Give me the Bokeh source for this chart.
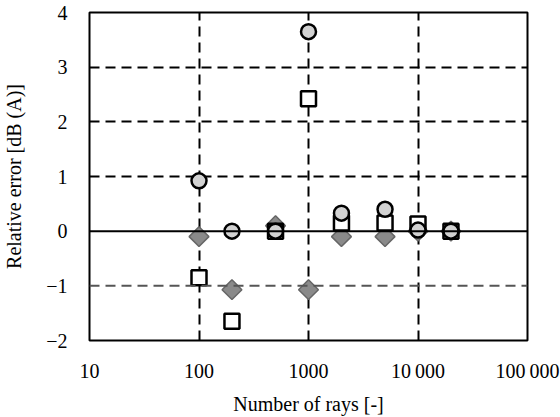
import math
from bokeh.plotting import figure
from bokeh.models import FixedTicker, Span, Range1d
from bokeh.embed import file_html
from bokeh.resources import INLINE

# Data
rays = [100, 200, 500, 1000, 2000, 5000, 10000, 20000]
circle_err = [0.92, 0.0, 0.0, 3.65, 0.33, 0.40, 0.02, 0.0]
square_err = [-0.85, -1.65, 0.0, 2.42, 0.15, 0.15, 0.13, 0.0]
diamond_err = [-0.1, -1.07, 0.1, -1.07, -0.1, -0.1, 0.0, 0.0]

x_ticks = [10, 100, 1000, 10000, 100000]
x_tick_labels = ["10", "100", "1000", "10\u2009000", "100\u2009000"]
y_ticks = [-2, -1, 0, 1, 2, 3, 4]
y_tick_labels = ["\u22122", "\u22121", "0", "1", "2", "3", "4"]

FONT = "'Liberation Serif', 'Times New Roman', serif"

p = figure(width=560, height=417, x_axis_type="log",
           x_range=Range1d(10, 100000), y_range=Range1d(-2, 4),
           output_backend="svg", toolbar_location=None,
           min_border_left=88, min_border_right=33, min_border_top=12, min_border_bottom=76)

p.outline_line_color = "black"
p.outline_line_width = 2
p.background_fill_color = "white"
p.border_fill_color = "white"

# axes
for ax in (p.xaxis[0], p.yaxis[0]):
    ax.axis_line_color = None
    ax.major_tick_line_color = None
    ax.minor_tick_line_color = None
    ax.major_label_text_font = FONT
    ax.major_label_text_font_size = "20px"
    ax.major_label_text_color = "black"
    ax.axis_label_text_font = FONT
    ax.axis_label_text_font_size = "20px"
    ax.axis_label_text_font_style = "normal"
    ax.axis_label_text_color = "black"

p.xaxis.ticker = FixedTicker(ticks=x_ticks)
p.xaxis.major_label_overrides = {t: l for t, l in zip(x_ticks, x_tick_labels)}
p.yaxis.ticker = FixedTicker(ticks=y_ticks)
p.yaxis.major_label_overrides = {t: l for t, l in zip(y_ticks, y_tick_labels)}
p.xaxis.axis_label = "Number of rays [-]"
p.yaxis.axis_label = "Relative error [dB (A)]"
p.xaxis.major_label_standoff = 13
p.yaxis.major_label_standoff = 16
p.xaxis.axis_label_standoff = 8
p.yaxis.axis_label_standoff = 18

# grids
p.xgrid.ticker = FixedTicker(ticks=[100, 1000, 10000])
p.ygrid.ticker = FixedTicker(ticks=[1, 2, 3])
for g in (p.xgrid[0], p.ygrid[0]):
    g.grid_line_color = "black"
    g.grid_line_width = 2
    g.grid_line_dash = "10 6"
    g.minor_grid_line_color = None

p.add_layout(Span(location=-1, dimension="width", line_color="#555555",
                  line_width=2, line_dash="10 6"))
p.add_layout(Span(location=0, dimension="width", line_color="black", line_width=2))

# markers
p.scatter(rays, diamond_err, marker="square", angle=math.pi / 4, size=14,
          fill_color="#8a8a8a", line_color="#666666", line_width=1.5)
p.scatter(rays, square_err, marker="square", size=15,
          fill_color="white", line_color="black", line_width=2.5)
p.scatter(rays, circle_err, marker="circle", size=15,
          fill_color="#d2d2d2", line_color="black", line_width=2.5)

open("out.html", "w").write(file_html(p, INLINE))
